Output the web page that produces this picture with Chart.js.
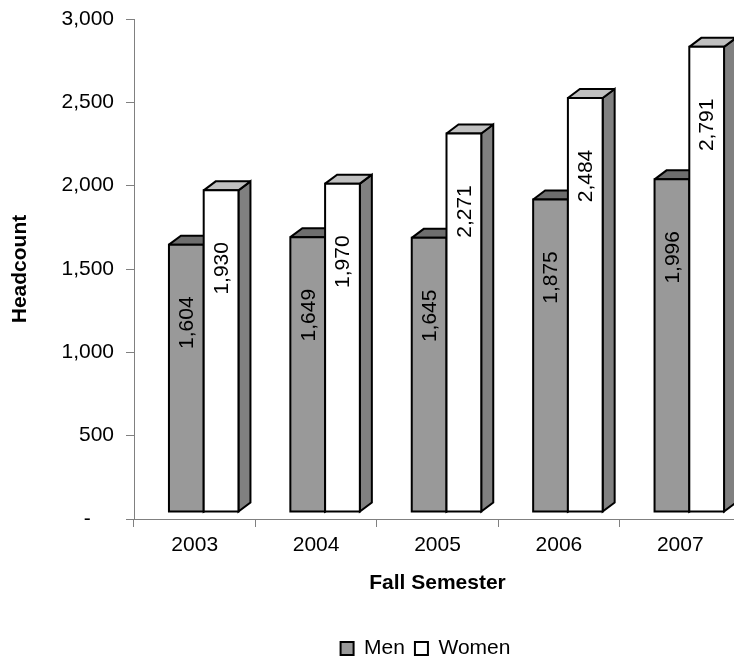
<!DOCTYPE html>
<html>
<head>
<meta charset="utf-8">
<script src="https://cdn.jsdelivr.net/npm/chart.js@4.4.1/dist/chart.umd.min.js"></script>
<style>
  html, body { margin: 0; padding: 0; background: #ffffff; overflow: hidden; width: 734px; height: 657px; }
  canvas { display: block; }
</style>
</head>
<body>
<canvas id="c" width="850" height="657" style="width:850px;height:657px"></canvas>
<script>
// ---- data ----
const years = ['2003', '2004', '2005', '2006', '2007'];
const men = [1604, 1649, 1645, 1875, 1996];
const women = [1930, 1970, 2271, 2484, 2791];
const seriesNames = ['Men', 'Women'];
const yMin = 0, yMax = 3000, yStep = 500;

// ---- style ----
const FONT = 'Liberation Sans, Arial, Helvetica, sans-serif';
const FRONT = ['#999999', '#ffffff'];
const TOP = ['#6e6e6e', '#c0c0c0'];
const SIDE = ['#5c5c5c', '#808080'];
const SHIFT_X = 9, SHIFT_Y = -7;     // front face offset from floor line
const DEPTH_X = 12, DEPTH_Y = -9;    // 3D depth
const LABEL_DROP = 78;               // data label centre below the front top
const LEGEND_SHIFT = 55;

const fmt = v => v.toLocaleString('en-US');

const bars3d = {
  id: 'bars3d',
  afterLayout(chart) {
    const lg = chart.legend;
    if (lg) { lg.left += LEGEND_SHIFT; lg.right += LEGEND_SHIFT; }
  },
  beforeDatasetsDraw(chart) {
    const ctx = chart.ctx;
    const metas = chart.data.datasets.map((d, i) => chart.getDatasetMeta(i));
    const n = chart.data.labels.length;
    const boxes = [];
    ctx.save();
    ctx.lineWidth = 2;
    ctx.strokeStyle = '#000000';
    ctx.lineJoin = 'miter';
    ctx.miterLimit = 3;
    for (let i = 0; i < n; i++) {
      metas.forEach((m, di) => {
        const el = m.data[i];
        const p = el.getProps(['x', 'y', 'base', 'width'], true);
        const x0 = p.x - p.width / 2 + SHIFT_X;
        const x1 = p.x + p.width / 2 + SHIFT_X;
        const yt = p.y + SHIFT_Y;
        const yb = p.base + SHIFT_Y;
        // side
        ctx.beginPath();
        ctx.moveTo(x1, yt); ctx.lineTo(x1 + DEPTH_X, yt + DEPTH_Y);
        ctx.lineTo(x1 + DEPTH_X, yb + DEPTH_Y); ctx.lineTo(x1, yb); ctx.closePath();
        ctx.fillStyle = SIDE[di]; ctx.fill(); ctx.stroke();
        // top
        ctx.beginPath();
        ctx.moveTo(x0, yt); ctx.lineTo(x0 + DEPTH_X, yt + DEPTH_Y);
        ctx.lineTo(x1 + DEPTH_X, yt + DEPTH_Y); ctx.lineTo(x1, yt); ctx.closePath();
        ctx.fillStyle = TOP[di]; ctx.fill(); ctx.stroke();
        // front
        ctx.beginPath();
        ctx.rect(x0, yt, x1 - x0, yb - yt);
        ctx.fillStyle = FRONT[di]; ctx.fill(); ctx.stroke();
        boxes.push({ cx: (x0 + x1) / 2, yt, text: fmt(chart.data.datasets[di].data[i]) });
      });
    }
    // data labels
    ctx.fillStyle = '#000000';
    ctx.font = '21px ' + FONT;
    ctx.textAlign = 'center';
    ctx.textBaseline = 'middle';
    boxes.forEach(b => {
      ctx.save();
      ctx.translate(b.cx + 1, b.yt + LABEL_DROP);
      ctx.rotate(-Math.PI / 2);
      ctx.fillText(b.text, 0, 0);
      ctx.restore();
    });
    ctx.restore();
    return false;
  }
};

new Chart(document.getElementById('c'), {
  type: 'bar',
  data: {
    labels: years,
    datasets: [
      { label: seriesNames[0], data: men, backgroundColor: FRONT[0], borderColor: '#000000', borderWidth: 2,
        categoryPercentage: 0.5725, barPercentage: 1 },
      { label: seriesNames[1], data: women, backgroundColor: FRONT[1], borderColor: '#000000', borderWidth: 2,
        categoryPercentage: 0.5725, barPercentage: 1 }
    ]
  },
  plugins: [bars3d],
  options: {
    responsive: false,
    animation: false,
    layout: { padding: { left: 0, top: 19, right: 109, bottom: -12 } },
    plugins: {
      legend: {
        position: 'bottom',
        labels: {
          font: { family: FONT, size: 21 },
          color: '#000000',
          boxWidth: 13,
          boxHeight: 13,
          padding: 10
        }
      },
      tooltip: { enabled: false }
    },
    scales: {
      x: {
        grid: { offset: true, drawOnChartArea: false, drawTicks: true, tickLength: 8, color: '#808080' },
        border: { display: true, color: '#808080', width: 1 },
        ticks: { font: { family: FONT, size: 21 }, color: '#000000', padding: 6, maxRotation: 0 },
        title: { display: true, text: 'Fall Semester', color: '#000000',
                 font: { family: FONT, size: 21, weight: 'bold' }, padding: { top: 0, bottom: 32 } },
        afterFit: s => { s.height = 109; s.paddingLeft = 0; s.paddingRight = 0; }
      },
      y: {
        min: yMin, max: yMax,
        grid: { drawOnChartArea: false, drawTicks: true, tickLength: 8, color: '#808080' },
        border: { display: true, color: '#808080', width: 1 },
        ticks: { stepSize: yStep, font: { family: FONT, size: 21 }, color: '#000000', padding: 12,
                 callback: v => v === 0 ? '-    ' : fmt(v) },
        title: { display: true, text: 'Headcount', color: '#000000',
                 font: { family: FONT, size: 21, weight: 'bold' }, padding: { top: 8, bottom: 0 } },
        afterFit: s => { s.width = 134; s.paddingTop = 0; s.paddingBottom = 0; }
      }
    }
  }
});
</script>
</body>
</html>
